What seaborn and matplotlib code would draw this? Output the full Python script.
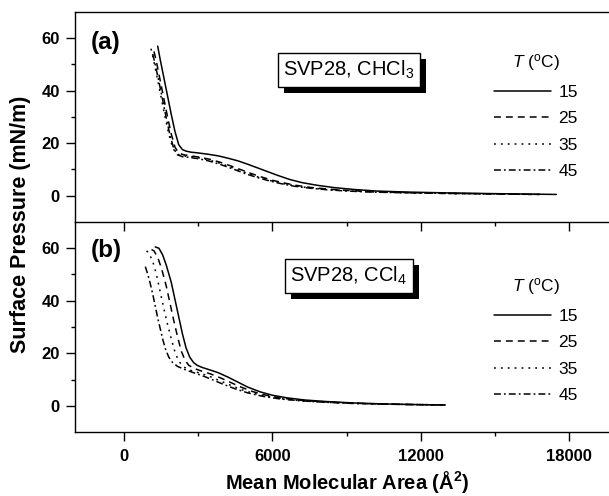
import numpy as np
import pandas as pd
import matplotlib
matplotlib.use("Agg")
import matplotlib.pyplot as plt
from matplotlib.lines import Line2D
from matplotlib.patches import Rectangle
from matplotlib.ticker import FixedLocator, NullFormatter
import seaborn as sns

# ---------------- data ----------------
temps = ["15", "25", "35", "45"]

# panel (a): SVP28 spread from CHCl3
a15_x = [1350, 1450, 1600, 1750, 1900, 2050, 2200, 2350, 2500, 2700, 3000, 3400, 3800, 4200, 4600, 5000, 5400, 5800, 6200, 6700, 7200, 7800, 8500, 9300, 10200, 11500, 13000, 15000, 17500]
a15_y = [57, 52, 45, 38, 31, 24.5, 19.5, 17.6, 17, 16.6, 16.3, 15.8, 15.2, 14.3, 13.3, 12, 10.6, 9.2, 7.8, 6.2, 5.0, 4.0, 3.1, 2.4, 1.8, 1.4, 1.1, 0.8, 0.5]
a25_x = [1200, 1300, 1450, 1600, 1750, 1900, 2050, 2200, 2400, 2700, 3100, 3500, 3900, 4300, 4700, 5100, 5500, 6000, 6500, 7000, 7600, 8300, 9100, 10000, 11500, 13000, 15000, 17000]
a25_y = [55, 51, 44, 37, 30, 23.5, 18.5, 16.3, 15.6, 15.2, 14.6, 13.8, 12.7, 11.4, 10.0, 8.6, 7.3, 5.9, 4.8, 3.9, 3.1, 2.5, 2.0, 1.6, 1.2, 0.9, 0.7, 0.5]
a35_x = [1080, 1200, 1350, 1500, 1650, 1800, 1950, 2100, 2300, 2600, 3000, 3400, 3800, 4200, 4600, 5000, 5400, 5900, 6400, 6900, 7500, 8200, 9000, 10000, 11500, 13000, 15000, 16800]
a35_y = [56, 51, 44, 37, 30, 23.5, 18.5, 16, 15.3, 15, 14.5, 13.7, 12.6, 11.3, 9.9, 8.5, 7.2, 5.8, 4.7, 3.8, 3.0, 2.4, 1.9, 1.5, 1.1, 0.9, 0.7, 0.5]
a45_x = [1150, 1250, 1400, 1550, 1700, 1850, 2000, 2150, 2350, 2650, 3000, 3400, 3800, 4200, 4600, 5000, 5400, 5900, 6400, 6900, 7500, 8200, 9000, 10000, 11500, 13000, 15000, 16500]
a45_y = [54, 50, 43.5, 36.5, 29.5, 23, 18, 15.6, 14.9, 14.6, 14.1, 13.3, 12.2, 10.9, 9.5, 8.1, 6.9, 5.6, 4.5, 3.6, 2.9, 2.3, 1.8, 1.4, 1.1, 0.9, 0.7, 0.5]

# panel (b): SVP28 spread from CCl4
b15_x = [1250, 1400, 1550, 1700, 1900, 2050, 2200, 2350, 2500, 2650, 2800, 2950, 3150, 3450, 3800, 4200, 4600, 5000, 5500, 6000, 6600, 7300, 8200, 9200, 10500, 11800, 13000]
b15_y = [60.5, 60, 57.5, 53.5, 47, 40.5, 34, 27.5, 22, 18.5, 16.5, 15.4, 14.6, 13.7, 12.6, 10.9, 9.0, 7.1, 5.3, 4.0, 3.0, 2.2, 1.6, 1.1, 0.7, 0.45, 0.3]
b25_x = [1100, 1200, 1350, 1500, 1700, 1850, 2000, 2150, 2300, 2450, 2600, 2800, 3100, 3500, 3900, 4300, 4700, 5200, 5700, 6300, 7000, 7900, 8900, 10200, 11600, 13000]
b25_y = [59.5, 59, 56.5, 52.5, 45.5, 39, 32.5, 26.5, 21, 17.5, 15.5, 14.3, 13.3, 12.1, 10.6, 8.9, 7.2, 5.4, 4.1, 3.0, 2.2, 1.6, 1.1, 0.7, 0.45, 0.3]
b35_x = [900, 1000, 1150, 1300, 1450, 1600, 1750, 1900, 2050, 2200, 2400, 2650, 3000, 3400, 3800, 4200, 4700, 5200, 5800, 6500, 7300, 8200, 9300, 10600, 13000]
b35_y = [59, 58, 55, 50, 43.5, 37, 31, 25.5, 20.5, 17, 14.8, 13.6, 12.6, 11.4, 9.8, 8.2, 6.3, 4.8, 3.5, 2.5, 1.8, 1.3, 0.9, 0.6, 0.3]
b45_x = [850, 950, 1050, 1150, 1250, 1350, 1450, 1550, 1650, 1800, 1950, 2150, 2450, 2800, 3200, 3600, 4000, 4500, 5000, 5600, 6300, 7100, 8000, 9200, 10600, 13000]
b45_y = [53, 50, 46.5, 42.5, 38, 33.5, 29.5, 25.5, 22, 18.5, 16.5, 15, 13.8, 12.6, 11.3, 9.8, 8.2, 6.4, 4.9, 3.6, 2.6, 1.9, 1.4, 0.9, 0.6, 0.3]

x_major = [0, 6000, 12000, 18000]
x_minor = [3000, 9000, 15000]
y_major = [0, 20, 40, 60]
y_minor = [10, 30, 50]

panel_a = {"15": (a15_x, a15_y), "25": (a25_x, a25_y), "35": (a35_x, a35_y), "45": (a45_x, a45_y)}
panel_b = {"15": (b15_x, b15_y), "25": (b25_x, b25_y), "35": (b35_x, b35_y), "45": (b45_x, b45_y)}


def to_frame(panel):
    rows = []
    for t in temps:
        xs, ys = panel[t]
        for xv, yv in zip(xs, ys):
            rows.append({"area": xv, "pi": yv, "T": t})
    return pd.DataFrame(rows)


# ---------------- style ----------------
sns.set_style("ticks", rc={"axes.edgecolor": "black", "xtick.color": "black",
                           "ytick.color": "black", "text.color": "black",
                           "axes.labelcolor": "black"})
plt.rcParams["font.family"] = ["Liberation Sans", "DejaVu Sans"]
plt.rcParams["mathtext.fontset"] = "custom"
plt.rcParams["mathtext.rm"] = "Liberation Sans"
plt.rcParams["mathtext.it"] = "Liberation Sans:italic"
plt.rcParams["mathtext.bf"] = "Liberation Sans:bold"
plt.rcParams["axes.linewidth"] = 1.0

W, H = 609, 496
fig = plt.figure(figsize=(W / 100, H / 100), dpi=100)


def fx(px):
    return px / W


def fy(py):
    return 1 - py / H


LW = 1.1
dash_map = {"15": "", "25": (4.5, 3.3), "35": (1.2, 3.3), "45": (4.5, 2.0, 1.2, 2.0)}
ls_map = {"15": "-", "25": (0, (4.5, 3.3)), "35": (0, (1.2, 3.3)), "45": (0, (4.5, 2.0, 1.2, 2.0))}

left_px, right_px = 75, 618
ax_a = fig.add_axes([fx(left_px), fy(222), (right_px - left_px) / W, 210 / H])
ax_b = fig.add_axes([fx(left_px), fy(432), (right_px - left_px) / W, 210 / H])

for ax, panel in ((ax_a, panel_a), (ax_b, panel_b)):
    df = to_frame(panel)
    sns.lineplot(data=df, x="area", y="pi", style="T", style_order=temps,
                 dashes=dash_map, color="black", linewidth=LW,
                 estimator=None, sort=False, legend=False, ax=ax)
    ax.set_xlim(-2000, 20000)
    ax.set_ylim(-10, 70)
    ax.xaxis.set_major_locator(FixedLocator(x_major))
    ax.xaxis.set_minor_locator(FixedLocator(x_minor))
    ax.yaxis.set_major_locator(FixedLocator(y_major))
    ax.yaxis.set_minor_locator(FixedLocator(y_minor))
    ax.tick_params(axis="both", which="major", direction="out", length=6.5, width=1.0,
                   labelsize=12, color="black", labelcolor="black")
    ax.tick_params(axis="both", which="minor", direction="out", length=3.2, width=1.0,
                   color="black")
    ax.tick_params(axis="y", pad=4.5)
    ax.tick_params(axis="x", pad=6)
    for lab in ax.get_xticklabels() + ax.get_yticklabels():
        lab.set_fontweight("bold")
    ax.set_xlabel("")
    ax.set_ylabel("")
    ax.spines["right"].set_visible(False)
    for s in ax.spines.values():
        s.set_color("black")
        s.set_linewidth(1.0)

ax_a.xaxis.set_major_formatter(NullFormatter())
ax_b.spines["top"].set_visible(False)
ax_b.patch.set_visible(False)
ax_a.set_zorder(2)
ax_a.patch.set_visible(False)

# panel labels
fig.text(fx(106), fy(42), "(a)", fontsize=17.5, fontweight="bold", ha="center", va="center")
fig.text(fx(106), fy(251), "(b)", fontsize=17.5, fontweight="bold", ha="center", va="center")

boxes = []


def boxed(cx, cy, label):
    bb = dict(boxstyle="square,pad=0.28", facecolor="white", edgecolor="black", linewidth=1.0)
    t = fig.text(fx(cx), fy(cy), label, fontsize=14.5, color="black", ha="center", va="center",
                 bbox=bb, zorder=6)
    boxes.append(t)


boxed(349, 70, r"SVP28, CHCl$_3$")
boxed(349, 276, r"SVP28, CCl$_4$")

# legends
handles = [Line2D([], [], color="black", linewidth=LW, linestyle=ls_map[t]) for t in temps]
for ax, top in ((ax_a, 52), (ax_b, 276)):
    leg = ax.legend(handles, temps, title=r"$T$ ($^{\rm o}$C)", loc="upper center",
                    bbox_to_anchor=(fx(536), fy(top)), bbox_transform=fig.transFigure,
                    frameon=False, fontsize=12.5, title_fontsize=12.5, handlelength=3.3,
                    handletextpad=0.4, labelspacing=0.66, borderpad=0, borderaxespad=0)
    leg.get_title().set_ha("center")
    for txt in leg.get_texts():
        txt.set_color("black")

# axis labels
fig.text(fx(21), fy(224), "Surface Pressure (mN/m)", rotation=90, fontsize=15.5,
         fontweight="bold", ha="center", va="center")
fig.text(fx(347), fy(482), r"Mean Molecular Area ($\mathbf{\AA}^{\mathbf{2}}$)", fontsize=14.5,
         fontweight="bold", ha="center", va="center")

# drop shadows behind the two label boxes
fig.canvas.draw()
for t in boxes:
    ext = t.get_bbox_patch().get_window_extent()
    fig.patches.append(Rectangle((ext.x0 + 6, ext.y0 - 6), ext.width, ext.height,
                                 transform=None, facecolor="black", edgecolor="black",
                                 linewidth=0, zorder=5, figure=fig))

fig.savefig("out.png", dpi=100, facecolor="white")
